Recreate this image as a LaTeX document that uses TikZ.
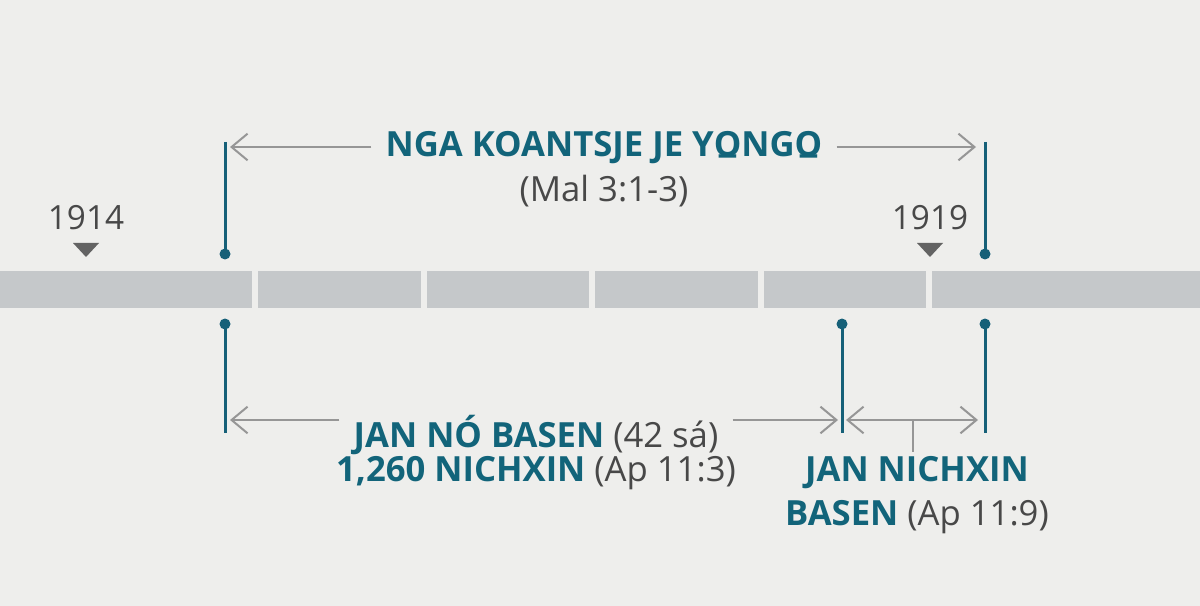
\documentclass[tikz,border=0pt]{standalone}
\usepackage{fontspec}
\setmainfont{Open Sans}
\usetikzlibrary{arrows.meta}

\definecolor{paper}{RGB}{238,238,236}
\definecolor{barcol}{RGB}{197,200,202}
\definecolor{teal}{RGB}{18,100,122}
\definecolor{stemcol}{RGB}{22,96,120}
\definecolor{arrowgray}{RGB}{150,150,150}
\definecolor{textgray}{RGB}{72,72,72}

\tikzset{every picture/.style={line width=0.75pt}}
\tikzset{
  headline/.style={inner sep=0.75pt, outer sep=10pt, text=teal, font=\fontsize{26}{30}\selectfont\bfseries},
  refline/.style={inner sep=0.75pt, outer sep=10pt, text=textgray, font=\fontsize{26}{30}\selectfont},
  yearlabel/.style={inner sep=0.75pt, text=textgray, font=\fontsize{25}{30}\selectfont},
  stem/.style={draw=stemcol, line width=2.25pt},
  span/.style={draw=arrowgray, line width=1.5pt, -{Straight Barb[length=12pt,width=20pt,line width=1.5pt]}},
}
\newcommand{\tl}[1]{\textcolor{teal}{\bfseries #1}}
% letter with a bar below (macron glyph lowered under it)
\newcommand{\ubar}[1]{\leavevmode\setbox0\hbox{#1}\rlap{\hbox to\wd0{\hss\raisebox{-0.8em}{\char"00AF}\hss}}\box0}

\begin{document}
\begin{tikzpicture}[x=0.75pt,y=0.75pt,yscale=-1,xscale=1]
    % background
    \fill[paper] (0,0) rectangle (1200,606);
    \useasboundingbox (0,0) rectangle (1200,606);

    % Timeline bar
    \foreach \a/\b in {0/252, 258/421, 427/589, 595/758, 764/926, 932/1200}
      \fill[barcol] (\a,271) rectangle (\b,308);

    % Year markers
    \node[yearlabel] (y1914) at (86,218) {1914};
    \node[yearlabel] (y1919) at (930,218) {1919};
    \fill[textgray!85] (73,243) -- (99,243) -- (86,257) -- cycle;
    \fill[textgray!85] (917,243) -- (943,243) -- (930,257) -- cycle;

    % Stems above the bar
    \coordinate (upLtop) at (225,142);
    \coordinate (upLdot) at (225,254);
    \coordinate (upRtop) at (985,142);
    \coordinate (upRdot) at (985,254);
    \draw[stem] (upLtop) -- (upLdot);
    \draw[stem] (upRtop) -- (upRdot);
    \fill[stemcol] (upLdot) circle (5.5);
    \fill[stemcol] (upRdot) circle (5.5);

    % Stems below the bar
    \coordinate (loLdot) at (225,324);
    \coordinate (loLend) at (225,433);
    \coordinate (loMdot) at (842,324);
    \coordinate (loMend) at (842,433);
    \coordinate (loRdot) at (985,324);
    \coordinate (loRend) at (985,433);
    \draw[stem] (loLdot) -- (loLend);
    \draw[stem] (loMdot) -- (loMend);
    \draw[stem] (loRdot) -- (loRend);
    \fill[stemcol] (loLdot) circle (5.5);
    \fill[stemcol] (loMdot) circle (5.5);
    \fill[stemcol] (loRdot) circle (5.5);

    % Text Node
    \node[headline, anchor=base] (koan) at (604,157) {NGA KOANTSJE JE Y\ubar{O}NG\ubar{O}};
    % Text Node
    \node[refline] (mal) at (604,191) {(Mal 3:1-3)};
    % Text Node
    \node[refline] (janA) at (536,435) {\tl{JAN NÓ BASEN} (42 sá)};
    % Text Node
    \node[refline] (janB) at (536,473) {\tl{1,260 NICHXIN} (Ap 11:3)};
    % Text Node
    \node[headline] (nichA) at (917,473) {JAN NICHXIN};
    % Text Node
    \node[refline] (nichB) at (917,517) {\tl{BASEN} (Ap 11:9)};

    % Span arrows
    \coordinate (koanL) at (230,147);
    \coordinate (koanR) at (976,147);
    \draw[span] (koan.west |- koanL) -- (koanL);
    \draw[span] (koan.east |- koanR) -- (koanR);

    \coordinate (janL) at (230,420);
    \coordinate (janR) at (838,420);
    \draw[span] (janA.west |- janL) -- (janL);
    \draw[span] (janA.east |- janR) -- (janR);

    \coordinate (nichL) at (846,420);
    \coordinate (nichR) at (978,420);
    \coordinate (nichM) at (913,420);
    \coordinate (nichT) at (913,452);
    \draw[span, {Straight Barb[length=12pt,width=20pt,line width=1.5pt]}-{Straight Barb[length=12pt,width=20pt,line width=1.5pt]}] (nichL) -- (nichR);
    \draw[draw=arrowgray, line width=1.5pt] (nichM) -- (nichT);

\end{tikzpicture}
\end{document}
